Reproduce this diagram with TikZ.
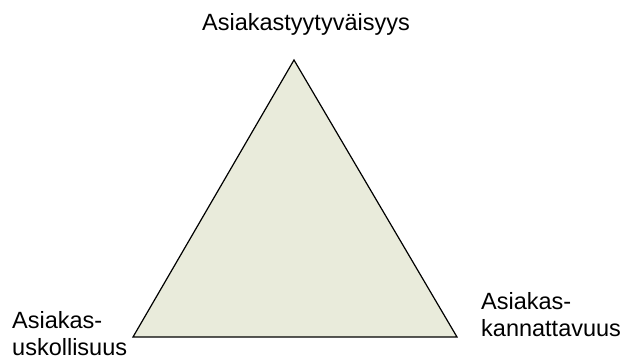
\documentclass[tikz,border=0pt]{standalone}
\usepackage{fontspec}
\setmainfont{Liberation Sans}
\usepackage{tikz}
\definecolor{kolmiovari}{RGB}{233,235,219}

\begin{document}
\begin{tikzpicture}[
  x=1pt, y=-1pt,
  font=\fontsize{23.5}{27}\selectfont,
  kulma/.style={anchor=base west, align=left, inner sep=0pt},
  otsikko/.style={anchor=base, inner sep=0pt},
  kolmio/.style={draw=black, line width=1.2pt, fill=kolmiovari, line join=miter}
]
\useasboundingbox (0,0) rectangle (622,361);
\coordinate (huippu) at (294,60);
\coordinate (vasen) at (133,337);
\coordinate (oikea) at (457,337);
\filldraw[kolmio] (huippu) -- (oikea) -- (vasen) -- cycle;
\node[otsikko] (tyyt) at (306,31) {Asiakastyytyväisyys};
\node[kulma] (uskol) at (12,355) {Asiakas-\\uskollisuus};
\node[kulma] (kann) at (481,336) {Asiakas-\\kannattavuus};
\end{tikzpicture}
\end{document}
